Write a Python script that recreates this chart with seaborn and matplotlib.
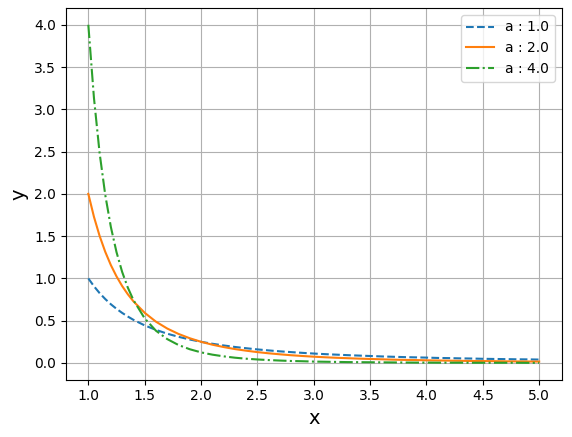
import numpy as np
import pandas as pd
import matplotlib
matplotlib.use("Agg")
import matplotlib.pyplot as plt
import seaborn as sns

# ---- valeurs ----
x = [1.0, 1.05, 1.1, 1.15, 1.2, 1.25, 1.3, 1.35, 1.4, 1.5, 1.6, 1.7, 1.8, 1.9,
     2.0, 2.1, 2.2, 2.3, 2.4, 2.5, 2.6, 2.7, 2.8, 2.9, 3.0, 3.1, 3.2, 3.3,
     3.4, 3.5, 3.6, 3.7, 3.8, 3.9, 4.0, 4.1, 4.2, 4.3, 4.4, 4.5, 4.6, 4.7,
     4.8, 4.9, 5.0]

y_a1 = [1.000, 0.907, 0.826, 0.756, 0.694, 0.640, 0.592, 0.549, 0.510, 0.444,
        0.391, 0.346, 0.309, 0.277, 0.250, 0.227, 0.207, 0.189, 0.174, 0.160,
        0.148, 0.137, 0.128, 0.119, 0.111, 0.104, 0.098, 0.092, 0.087, 0.082,
        0.077, 0.073, 0.069, 0.066, 0.063, 0.059, 0.057, 0.054, 0.052, 0.049,
        0.047, 0.045, 0.043, 0.042, 0.040]

y_a2 = [2.000, 1.728, 1.503, 1.315, 1.157, 1.024, 0.910, 0.813, 0.729, 0.593,
        0.488, 0.407, 0.343, 0.292, 0.250, 0.216, 0.188, 0.164, 0.145, 0.128,
        0.114, 0.102, 0.091, 0.082, 0.074, 0.067, 0.061, 0.056, 0.051, 0.047,
        0.043, 0.039, 0.036, 0.034, 0.031, 0.029, 0.027, 0.025, 0.023, 0.022,
        0.021, 0.019, 0.018, 0.017, 0.016]

y_a4 = [4.000, 3.134, 2.484, 1.989, 1.608, 1.311, 1.077, 0.892, 0.744, 0.527,
        0.381, 0.282, 0.212, 0.162, 0.125, 0.098, 0.078, 0.062, 0.050, 0.041,
        0.034, 0.028, 0.023, 0.020, 0.016, 0.014, 0.012, 0.010, 0.009, 0.008,
        0.007, 0.006, 0.005, 0.004, 0.004, 0.003, 0.003, 0.003, 0.002, 0.002,
        0.002, 0.002, 0.002, 0.001, 0.001]

series = {"a : 1.0": (y_a1, "--"), "a : 2.0": (y_a2, "-"), "a : 4.0": (y_a4, "-.")}
colors = sns.color_palette("tab10")

fig, ax = plt.subplots(figsize=(5.72, 4.37), dpi=100)
for i, (label, (y, ls)) in enumerate(series.items()):
    sns.lineplot(x=x, y=y, ax=ax, color=colors[i], linestyle=ls, label=label)

ax.set_xlabel("x", fontsize=14)
ax.set_ylabel("y", fontsize=14)
ax.set_xticks(np.arange(1.0, 5.01, 0.5))
ax.set_yticks(np.arange(0.0, 4.01, 0.5))
ax.grid(True)
ax.legend(loc="upper right")

plt.subplots_adjust(left=0.115, right=0.982, top=0.982, bottom=0.131)
plt.savefig("out.png")
plt.close()
